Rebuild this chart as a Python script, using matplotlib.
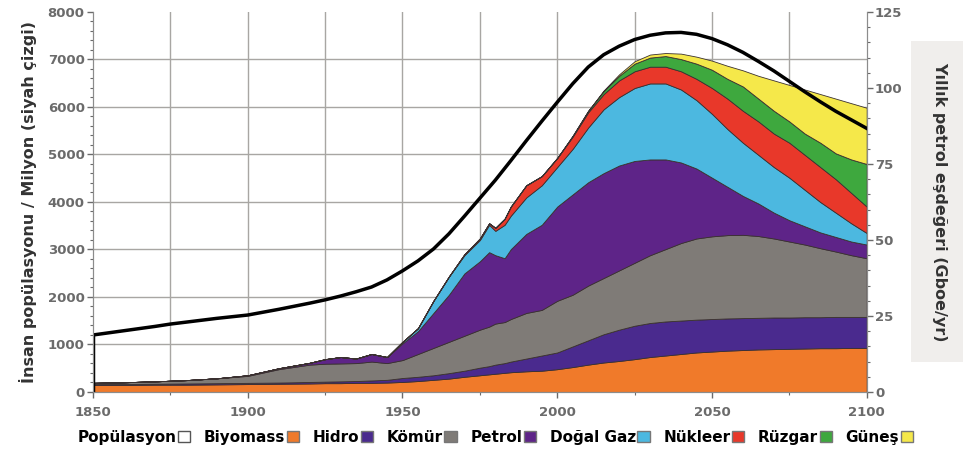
import matplotlib
matplotlib.use("Agg")
import matplotlib.pyplot as plt
from matplotlib.patches import Patch
from matplotlib.ticker import MultipleLocator

# --- Data ---
years = [1850, 1860, 1870, 1880, 1890, 1900, 1910, 1920, 1925, 1930, 1935, 1940, 1945,
         1950, 1955, 1960, 1965, 1970, 1975, 1978, 1980, 1983, 1985, 1990, 1995, 2000,
         2005, 2010, 2015, 2020, 2025, 2030, 2035, 2040, 2045, 2050, 2055, 2060, 2065,
         2070, 2075, 2080, 2085, 2090, 2095, 2100]

# energy by source, Gboe/yr
biomass = [2.3, 2.3, 2.4, 2.4, 2.5, 2.6, 2.7, 2.8, 2.9, 2.9, 3.0, 3.0, 3.1,
           3.3, 3.6, 4.0, 4.4, 5.0, 5.5, 5.8, 6.0, 6.3, 6.5, 6.8, 7.0, 7.5,
           8.2, 9.0, 9.7, 10.2, 10.8, 11.5, 12.0, 12.5, 13.0, 13.3, 13.6, 13.8, 14.0,
           14.1, 14.2, 14.3, 14.4, 14.4, 14.5, 14.5]
hydro = [0.3, 0.3, 0.3, 0.4, 0.4, 0.4, 0.4, 0.5, 0.5, 0.6, 0.6, 0.8, 0.9,
         1.3, 1.4, 1.5, 1.8, 2.0, 2.5, 2.7, 3.0, 3.2, 3.5, 4.2, 5.0, 5.5,
         6.8, 8.0, 9.3, 10.3, 11.0, 11.2, 11.2, 11.0, 10.8, 10.7, 10.6, 10.5, 10.4,
         10.4, 10.3, 10.3, 10.2, 10.3, 10.2, 10.2]
coal = [0.4, 0.6, 0.8, 1.1, 1.6, 2.3, 4.4, 5.7, 5.9, 5.9, 5.9, 6.2, 5.5,
        5.9, 7.5, 9.0, 10.3, 11.5, 12.5, 13.0, 13.5, 13.5, 14.0, 15.0, 15.0, 17.0,
        17.0, 18.0, 18.5, 19.5, 20.7, 22.3, 23.8, 25.5, 26.7, 27.2, 27.4, 27.4, 26.9,
        26.0, 25.0, 23.9, 22.7, 21.5, 20.3, 19.3]
oil = [0, 0, 0, 0, 0, 0.2, 0.3, 0.6, 1.5, 2.1, 1.5, 2.5, 2.0,
       5.5, 7.5, 11.5, 15.5, 20.5, 22.5, 24.5, 22.5, 21.0, 23.0, 26.0, 28.0, 31.0,
       33.0, 34.0, 34.5, 34.5, 33.5, 31.5, 29.5, 26.5, 23.0, 19.3, 15.9, 12.8, 10.7,
       8.5, 7.0, 6.0, 5.2, 4.8, 4.5, 4.5]
gas = [0, 0, 0, 0, 0, 0, 0, 0, 0, 0, 0, 0, 0,
       0.5, 1.0, 4.0, 6.0, 6.0, 7.0, 9.0, 8.0, 11.0, 11.0, 12.0, 13.0, 13.0,
       15.0, 18.0, 21.0, 22.5, 24.0, 25.0, 25.0, 24.0, 22.5, 21.0, 19.0, 17.5, 16.0,
       15.0, 14.0, 12.0, 10.0, 8.0, 6.0, 3.8]
nuclear = [0, 0, 0, 0, 0, 0, 0, 0, 0, 0, 0, 0, 0,
           0, 0, 0, 0, 0.3, 0.5, 0.5, 1.0, 2.0, 3.0, 4.0, 3.0, 3.0,
           4.0, 5.0, 5.0, 5.5, 5.5, 5.5, 5.5, 6.0, 7.0, 8.5, 10.0, 10.5, 11.0,
           11.0, 11.5, 11.5, 11.5, 11.0, 10.0, 8.7]
wind = [0, 0, 0, 0, 0, 0, 0, 0, 0, 0, 0, 0, 0,
        0, 0, 0, 0, 0, 0, 0, 0, 0, 0, 0, 0, 0,
        0.3, 0.5, 1.0, 1.5, 2.5, 3.0, 3.5, 4.0, 5.0, 6.0, 6.5, 8.0, 7.5,
        7.5, 7.0, 7.0, 8.0, 8.5, 11.0, 14.0]
solar = [0, 0, 0, 0, 0, 0, 0, 0, 0, 0, 0, 0, 0,
         0, 0, 0, 0, 0, 0, 0, 0, 0, 0, 0, 0, 0,
         0, 0, 0.2, 0.5, 0.8, 1.0, 1.0, 1.8, 2.3, 3.0, 4.3, 5.3, 7.5,
         10.0, 12.0, 14.5, 16.0, 18.0, 18.5, 18.5]

# world population, millions
pop_years = [1850, 1860, 1870, 1875, 1880, 1890, 1900, 1910, 1920, 1925, 1930, 1935,
             1940, 1945, 1950, 1955, 1960, 1965, 1970, 1975, 1980, 1985, 1990, 1995,
             2000, 2005, 2010, 2015, 2020, 2025, 2030, 2035, 2040, 2045, 2050, 2055,
             2060, 2065, 2070, 2075, 2080, 2085, 2090, 2095, 2100]
population = [1200, 1290, 1380, 1430, 1470, 1550, 1620, 1740, 1870, 1940, 2020, 2110,
              2210, 2360, 2550, 2760, 3010, 3330, 3700, 4080, 4460, 4870, 5290, 5700,
              6100, 6490, 6840, 7100, 7280, 7420, 7510, 7560, 7570, 7530, 7440, 7310,
              7150, 6960, 6760, 6540, 6320, 6110, 5910, 5730, 5550]

labels = ["Biyomass", "Hidro", "Kömür", "Petrol", "Doğal Gaz", "Nükleer", "Rüzgar", "Güneş"]
colors = ["#F07A2A", "#4A2A8E", "#7F7B77", "#5E2488", "#4CB8E0", "#E8382A", "#3EA83E", "#F5E84A"]

# --- Plotting ---
fig = plt.figure(figsize=(9.63, 4.54), dpi=100)
ax = fig.add_axes([0.0966, 0.1366, 0.8034, 0.837])
ax2 = ax.twinx()

# population axis sits on top, transparent; energy axis carries the background + grid
ax.set_zorder(ax2.get_zorder() + 1)
ax.patch.set_visible(False)
ax2.patch.set_facecolor("#E9E7E4")

ax.set_xlim(1850, 2100)
ax.set_ylim(0, 8000)
ax2.set_ylim(0, 125)

for yv in range(1000, 8000, 1000):
    ax2.axhline(yv / 64.0, color="#A8A6A3", linewidth=1.0, zorder=0)
for xv in range(1875, 2100, 25):
    ax2.axvline(xv, color="#A8A6A3", linewidth=1.0, zorder=0)

ax2.stackplot(years, biomass, hydro, coal, oil, gas, nuclear, wind, solar,
              colors=colors, edgecolor="#3a3030", linewidth=0.6, zorder=2)

ax.plot(pop_years, population, color="black", linewidth=2.5, solid_joinstyle="round")
ax.vlines(pop_years[0], 0, population[0], color="black", linewidth=2.5)

# ticks
ax.xaxis.set_major_locator(MultipleLocator(50))
ax.xaxis.set_minor_locator(MultipleLocator(25))
ax.yaxis.set_major_locator(MultipleLocator(1000))
ax.yaxis.set_minor_locator(MultipleLocator(200))
ax2.yaxis.set_major_locator(MultipleLocator(25))
ax2.yaxis.set_minor_locator(MultipleLocator(5))

tick_color = "#6B6B6B"
for a in (ax, ax2):
    a.tick_params(axis="both", which="major", colors=tick_color, labelsize=9.5,
                  length=4, width=1, pad=2)
    a.tick_params(axis="both", which="minor", colors=tick_color, length=2, width=0.8)
    for s in a.spines.values():
        s.set_color("#8C8C8C")
    a.spines["top"].set_visible(False)
for lbl in ax.get_xticklabels() + ax.get_yticklabels() + ax2.get_yticklabels():
    lbl.set_fontweight("bold")
    lbl.set_color(tick_color)
ax.tick_params(axis="x", pad=6)

ax.set_ylabel("İnsan popülasyonu / Milyon (siyah çizgi)", fontsize=11.5,
              fontweight="bold", color="#333333", labelpad=8)
ax2.set_ylabel("Yıllık petrol eşdeğeri (Gboe/yr)", fontsize=11.5, rotation=270,
               fontweight="bold", color="#333333", labelpad=32,
               bbox=dict(boxstyle="square,pad=1.3", facecolor="#F0EEEC", edgecolor="none"))

# legend: label first, swatch after
handles = [Patch(facecolor="white", edgecolor="#555555", label="Popülasyon")]
handles += [Patch(facecolor=c, edgecolor="#777777", label=l) for c, l in zip(colors, labels)]
fig.legend(handles=handles, loc="lower left", bbox_to_anchor=(0.066, -0.01), ncol=9,
           frameon=False, markerfirst=False, handlelength=0.8, handleheight=0.8,
           handletextpad=0.1, columnspacing=0.9,
           prop={"weight": "bold", "size": 11})

fig.savefig("out.png", dpi=100)
